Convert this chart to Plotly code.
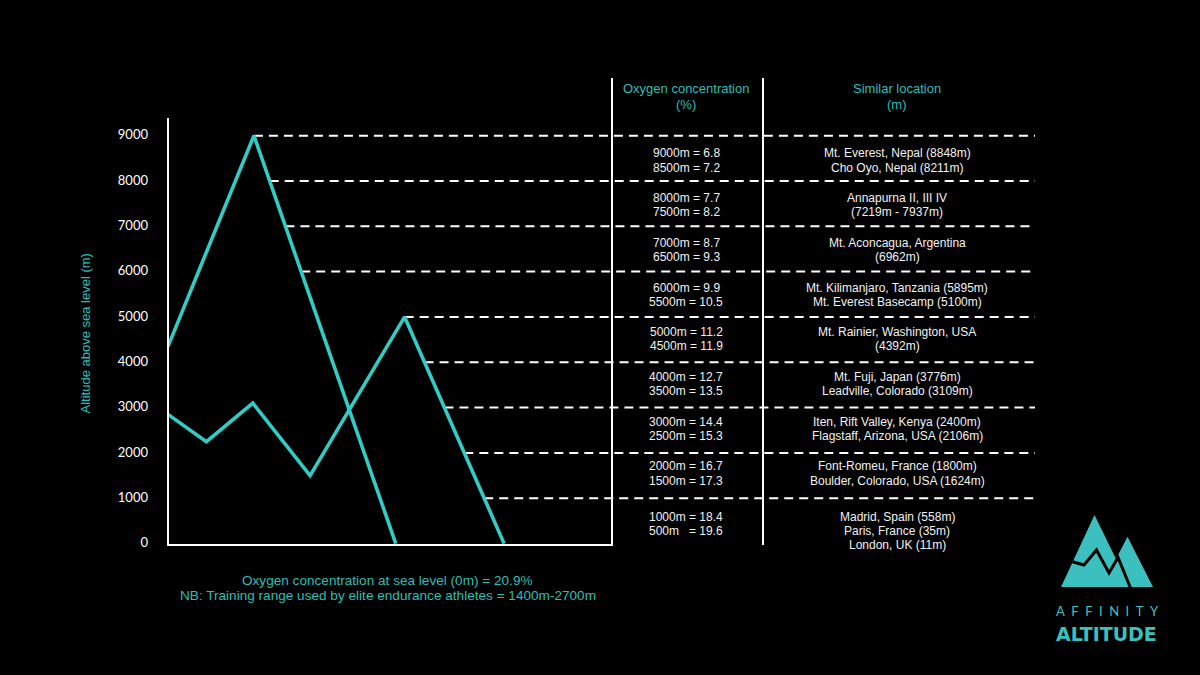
import plotly.graph_objects as go

# ---------------- data ----------------
ALT_TICKS = [0, 1000, 2000, 3000, 4000, 5000, 6000, 7000, 8000, 9000]
ALT_TICK_LABELS = [str(v) for v in ALT_TICKS]

# two mountain profiles (horizontal distance units, altitude in m)
ridge_a_x = [0, 19.35, 51.3]
ridge_a_alt = [4350, 9000, 0]
ridge_b_x = [0, 8.65, 19.1, 32.0, 53.3, 75.7]
ridge_b_alt = [2850, 2250, 3100, 1500, 5000, 0]

band_levels = [9000, 8000, 7000, 6000, 5000, 4000, 3000, 2000, 1000]

header_oxygen = ["Oxygen concentration", "(%)"]
header_location = ["Similar location", "(m)"]

oxygen_text = [
    ["9000m = 6.8", "8500m = 7.2"],
    ["8000m = 7.7", "7500m = 8.2"],
    ["7000m = 8.7", "6500m = 9.3"],
    ["6000m = 9.9", "5500m = 10.5"],
    ["5000m = 11.2", "4500m = 11.9"],
    ["4000m = 12.7", "3500m = 13.5"],
    ["3000m = 14.4", "2500m = 15.3"],
    ["2000m = 16.7", "1500m = 17.3"],
    ["1000m = 18.4", "500m\u00a0\u00a0\u00a0= 19.6"],
]
location_text = [
    ["Mt. Everest, Nepal (8848m)", "Cho Oyo, Nepal (8211m)"],
    ["Annapurna II, III IV", "(7219m - 7937m)"],
    ["Mt. Aconcagua, Argentina", "(6962m)"],
    ["Mt. Kilimanjaro, Tanzania (5895m)", "Mt. Everest Basecamp (5100m)"],
    ["Mt. Rainier, Washington, USA", "(4392m)"],
    ["Mt. Fuji, Japan (3776m)", "Leadville, Colorado (3109m)"],
    ["Iten, Rift Valley, Kenya (2400m)", "Flagstaff, Arizona, USA (2106m)"],
    ["Font-Romeu, France (1800m)", "Boulder, Colorado, USA (1624m)"],
    ["Madrid, Spain (558m)", "Paris, France (35m)", "London, UK (11m)"],
]

footnotes = [
    "Oxygen concentration at sea level (0m) = 20.9%",
    "NB: Training range used by elite endurance athletes = 1400m-2700m",
]
y_title = "Altitude above sea level (m)"

# ---------------- layout constants ----------------
W, H = 1200, 675
L_PX, R_PX = 168, 1040
T_PX, B_PX = 70, 555
X_PER_PX = 1 / 4.44
Y0_PX = 543.6
PX_PER_M = 45.33 / 1000
DASH_END = (1035 - L_PX) * X_PER_PX

CYAN_LINE = "#30CCC5"
CYAN_TEXT = "#2DBDB7"
LOGO = "#3CC0BF"
WHITE = "#FFFFFF"
TXT_FONT = "Liberation Sans, Arial, sans-serif"


def px_x(p):
    return (p - L_PX) / (R_PX - L_PX)


def px_y(p):
    return (B_PX - p) / (B_PX - T_PX)


def rightmost_crossing(level):
    best = None
    for xs, ys in [(ridge_a_x, ridge_a_alt), (ridge_b_x, ridge_b_alt)]:
        for i in range(len(xs) - 1):
            y0, y1 = ys[i], ys[i + 1]
            if y0 != y1 and min(y0, y1) <= level <= max(y0, y1):
                x = xs[i] + (level - y0) * (xs[i + 1] - xs[i]) / (y1 - y0)
                best = x if best is None else max(best, x)
    return best


fig = go.Figure()

# dashed reference lines
dx, dy = [], []
for lv in band_levels:
    dx += [rightmost_crossing(lv), DASH_END, None]
    dy += [lv, lv, None]
fig.add_trace(go.Scatter(x=dx, y=dy, mode="lines", hoverinfo="skip",
                         line=dict(color=WHITE, width=2, dash="9px,6px")))

# mountain profiles
for xs, ys in [(ridge_a_x, ridge_a_alt), (ridge_b_x, ridge_b_alt)]:
    fig.add_trace(go.Scatter(x=xs, y=ys, mode="lines", hoverinfo="skip",
                             line=dict(color=CYAN_LINE, width=3.6)))

shapes = []
line_w = dict(color=WHITE, width=2)
# frame lines
shapes.append(dict(type="line", xref="paper", yref="paper", x0=px_x(168), x1=px_x(168),
                   y0=px_y(118), y1=px_y(545), line=line_w))
shapes.append(dict(type="line", xref="paper", yref="paper", x0=px_x(167), x1=px_x(613),
                   y0=px_y(545), y1=px_y(545), line=line_w))
shapes.append(dict(type="line", xref="paper", yref="paper", x0=px_x(612), x1=px_x(612),
                   y0=px_y(78), y1=px_y(546), line=line_w))
shapes.append(dict(type="line", xref="paper", yref="paper", x0=px_x(763), x1=px_x(763),
                   y0=px_y(78), y1=px_y(545), line=line_w))

# logo
sil = [(1061, 587), (1094.5, 515), (1116, 559), (1127.5, 536.7), (1153, 587)]
path = "M " + " L ".join(f"{px_x(a)},{px_y(b)}" for a, b in sil) + " Z"
shapes.append(dict(type="path", xref="paper", yref="paper", path=path,
                   fillcolor=LOGO, line=dict(width=0)))
zig = [(1072.5, 561.7), (1084, 565), (1096.5, 550), (1109, 573), (1118, 557.5), (1130.5, 588)]
zpath = "M " + " L ".join(f"{px_x(a)},{px_y(b)}" for a, b in zig)
shapes.append(dict(type="path", xref="paper", yref="paper", path=zpath,
                   line=dict(color="#000000", width=3)))

ann = []


def add_text(text, xp, yp, size=12, color=WHITE, family=TXT_FONT, **kw):
    ann.append(dict(text=text, x=px_x(xp), y=px_y(yp), xref="paper", yref="paper",
                    showarrow=False, xanchor="center", yanchor="middle",
                    font=dict(size=size, color=color, family=family), **kw))


# headers
COL1_X, COL2_X = 686, 897
for i, t in enumerate(header_oxygen):
    add_text(t, COL1_X, 88.3 + 16 * i, size=13, color=CYAN_TEXT)
for i, t in enumerate(header_location):
    add_text(t, COL2_X, 88.3 + 16 * i, size=13, color=CYAN_TEXT)

# table rows
LINE_GAP = 14.2
ROW0_CENTER, ROW_STEP = 160.5, 44.7
n_rows = len(oxygen_text)
for r in range(n_rows):
    if r == n_rows - 1:
        first = 516.7
    else:
        first = ROW0_CENTER + ROW_STEP * r - LINE_GAP / 2
    for col_x, lines in [(COL1_X, oxygen_text[r]), (COL2_X, location_text[r])]:
        for k, t in enumerate(lines):
            add_text(t, col_x, first + LINE_GAP * k, size=12, color="#F2F2F2")

# footnotes
for i, t in enumerate(footnotes):
    add_text(t, 387.5, 580.7 + 14.3 * i, size=13.6, color=CYAN_TEXT)

# y-axis title
add_text(y_title, 85, 333.5, size=13, color=CYAN_TEXT, textangle=-90)

# logo text
add_text("A\u2002F\u2002F\u2002I\u2002N\u2002I\u2002T\u2002Y", 1107.5, 611, size=13,
         color=LOGO, family="Lato, sans-serif")
add_text("ALTITUDE", 1106, 633.5, size=19, color=LOGO,
         family="DejaVu Sans, sans-serif")
ann[-1]["font"]["weight"] = "bold"

fig.update_layout(
    width=W, height=H,
    paper_bgcolor="#000000", plot_bgcolor="#000000",
    margin=dict(l=L_PX, r=W - R_PX, t=T_PX, b=H - B_PX, pad=0),
    showlegend=False,
    xaxis=dict(visible=False, range=[0, (R_PX - L_PX) * X_PER_PX], fixedrange=True),
    yaxis=dict(
        range=[-(B_PX - Y0_PX) / PX_PER_M, (Y0_PX - T_PX) / PX_PER_M],
        tickmode="array", tickvals=ALT_TICKS, ticktext=ALT_TICK_LABELS,
        tickfont=dict(family="Lato, sans-serif", size=13, color=WHITE),
        showgrid=False, zeroline=False, showline=False, ticks="",
        ticklabelstandoff=19, ticklabelshift=-1, fixedrange=True,
    ),
    shapes=shapes,
    annotations=ann,
)

fig.write_html(
    "out.html",
    config={"displayModeBar": False},
    post_script="document.body.style.margin='0';document.body.style.background='#000';",
)
